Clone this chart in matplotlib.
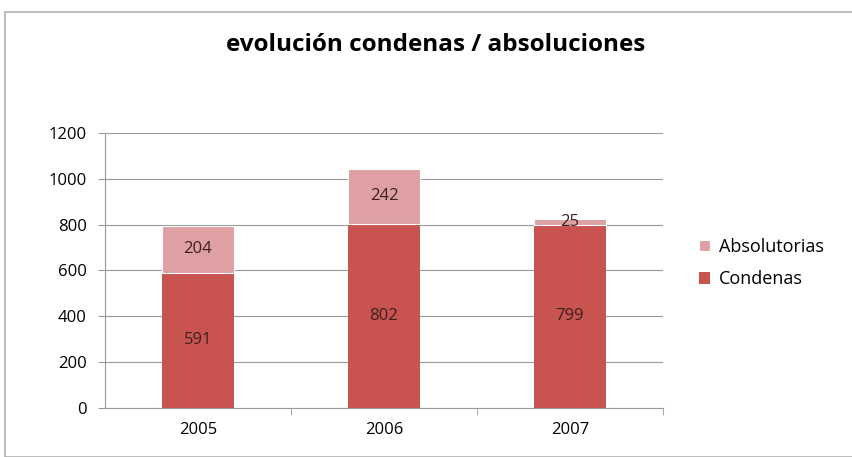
import matplotlib
matplotlib.use('Agg')
from matplotlib import pyplot as plt
from matplotlib.patches import Rectangle

years = ['2005', '2006', '2007']
condenas = [591, 802, 799]
absolutorias = [204, 242, 25]

col_cond = '#C9534F'
col_abs = '#DFA0A3'

plt.rcParams['font.family'] = ['Open Sans', 'DejaVu Sans']

fig = plt.figure(figsize=(8.52, 4.57), dpi=100)
fig.patches.append(Rectangle((5/852, 0.0), 1.0, 1 - 12/457, transform=fig.transFigure,
                             fill=False, edgecolor='#B0B0B0', lw=1.2))

ax = fig.add_axes([105/852, 1 - 408/457, 558/852, 275/457])
x = list(range(len(years)))
ax.bar(x, condenas, width=0.39, color=col_cond, label='Condenas', zorder=3)
ax.bar(x, absolutorias, width=0.39, bottom=condenas, color=col_abs,
       edgecolor='white', linewidth=0.8, label='Absolutorias', zorder=3)

for i in x:
    ax.text(i, condenas[i] / 2, str(condenas[i]), ha='center', va='center',
            fontsize=12, color='#3a2020', zorder=4)
    ax.text(i, condenas[i] + absolutorias[i] / 2, str(absolutorias[i]), ha='center',
            va='center', fontsize=12, color='#3a2020', zorder=4)

ax.set_xlim(-0.5, 2.5)
ax.set_ylim(0, 1200)
ax.set_yticks(range(0, 1201, 200))
ax.set_xticks(x)
ax.set_xticklabels(years)
ax.set_xticks([0.5, 1.5, 2.5], minor=True)
ax.grid(axis='y', color='#9a9a9a', lw=0.8, zorder=0)
for s in ['top', 'right']:
    ax.spines[s].set_visible(False)
ax.spines['left'].set_color('#9a9a9a')
ax.spines['bottom'].set_color('#9a9a9a')
ax.tick_params(axis='y', length=5, color='#9a9a9a', labelsize=12, pad=8)
ax.tick_params(axis='x', which='major', length=0, labelsize=12, pad=10)
ax.tick_params(axis='x', which='minor', length=5, color='#9a9a9a')

fig.text(436/852, 1 - 45/457, 'evolución condenas / absoluciones', ha='center',
         va='center', fontsize=17.5, fontweight='bold')

handles, labels = ax.get_legend_handles_labels()
fig.legend(handles[::-1], labels[::-1], loc='center left',
           bbox_to_anchor=(683/852, 1 - 263/457), frameon=False, fontsize=13,
           handlelength=0.6, handleheight=0.6, handletextpad=0.5, labelspacing=0.8)

plt.savefig('out.png')
